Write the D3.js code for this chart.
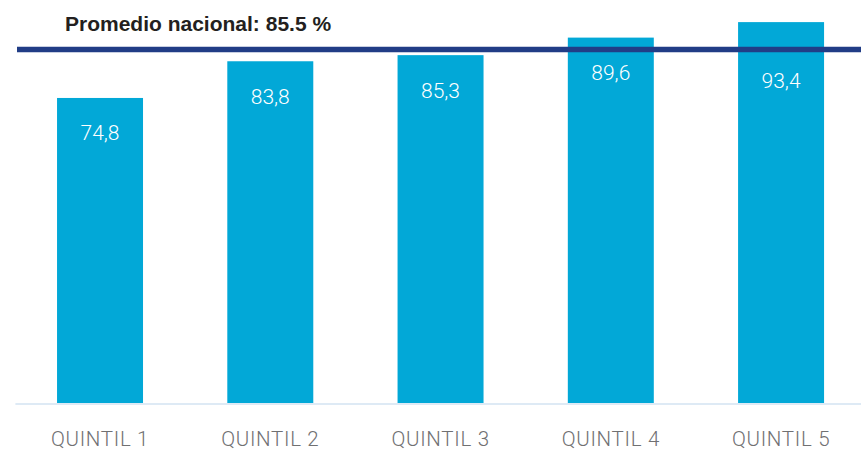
<!DOCTYPE html>
<html><head><meta charset="utf-8">
<script src="https://cdn.jsdelivr.net/npm/d3@7"></script>
<style>html,body{margin:0;padding:0;background:#fff;}svg{display:block;}</style>
</head><body>
<svg id="chart" width="861" height="452"></svg>
<script>
const categories = ["QUINTIL 1", "QUINTIL 2", "QUINTIL 3", "QUINTIL 4", "QUINTIL 5"];
const values = [74.8, 83.8, 85.3, 89.6, 93.4];
const valueLabels = ["74,8", "83,8", "85,3", "89,6", "93,4"];
const averageLabel = "Promedio nacional: 85.5 %";
const averageLineLevel = 86.7; // level at which the reference line is drawn in the source

const W = 861, H = 452;
const svg = d3.select("#chart");
const x = d3.scaleBand().domain(categories).range([14.9, 866.2]).paddingInner(0.495).paddingOuter(0.2475);
const y = d3.scaleLinear().domain([0, 100]).range([403, 403 - 407.8]);

// bars
svg.append("g").selectAll("rect").data(values).join("rect")
  .attr("x", (d, i) => x(categories[i]))
  .attr("y", d => y(d))
  .attr("width", x.bandwidth())
  .attr("height", d => y(0) - y(d))
  .attr("fill", "#02a8d7");

// baseline axis
const xAxis = d3.axisBottom(x).tickSize(0).tickPadding(0);
const ax = svg.append("g").attr("transform", `translate(0,${y(0) + 0.5})`).call(xAxis);
ax.select(".domain").attr("stroke", "#d3e3f2").attr("stroke-width", 1.5);
ax.selectAll(".tick text")
  .attr("y", 42.5)
  .attr("dy", 0)
  .attr("fill", "#707072")
  .style("font-family", "Roboto, 'Liberation Sans', Arial, sans-serif")
  .style("font-weight", 300)
  .style("font-size", "20.5px")
  .style("letter-spacing", "0.7px");

// average line
const lineY = y(averageLineLevel);
svg.append("line")
  .attr("x1", 17).attr("x2", W)
  .attr("y1", lineY).attr("y2", lineY)
  .attr("stroke", "#213d86").attr("stroke-width", 5.5);

svg.append("text")
  .attr("x", 65).attr("y", 31)
  .attr("fill", "#231f20")
  .style("font-family", "'Liberation Sans', Arial, sans-serif")
  .style("font-weight", 700)
  .style("font-size", "21px")
  .text(averageLabel);

// value labels
svg.append("g").selectAll("text").data(values).join("text")
  .attr("x", (d, i) => x(categories[i]) + x.bandwidth() / 2)
  .attr("y", d => {
    let b = y(d) + 42.5;
    if (b - 15 < lineY + 10) b = lineY + 39;
    return b;
  })
  .attr("text-anchor", "middle")
  .attr("fill", "#ffffff")
  .style("font-family", "Roboto, 'Liberation Sans', Arial, sans-serif")
  .style("font-weight", 300)
  .style("font-size", "21px")
  .text((d, i) => valueLabels[i]);
</script>
</body></html>
